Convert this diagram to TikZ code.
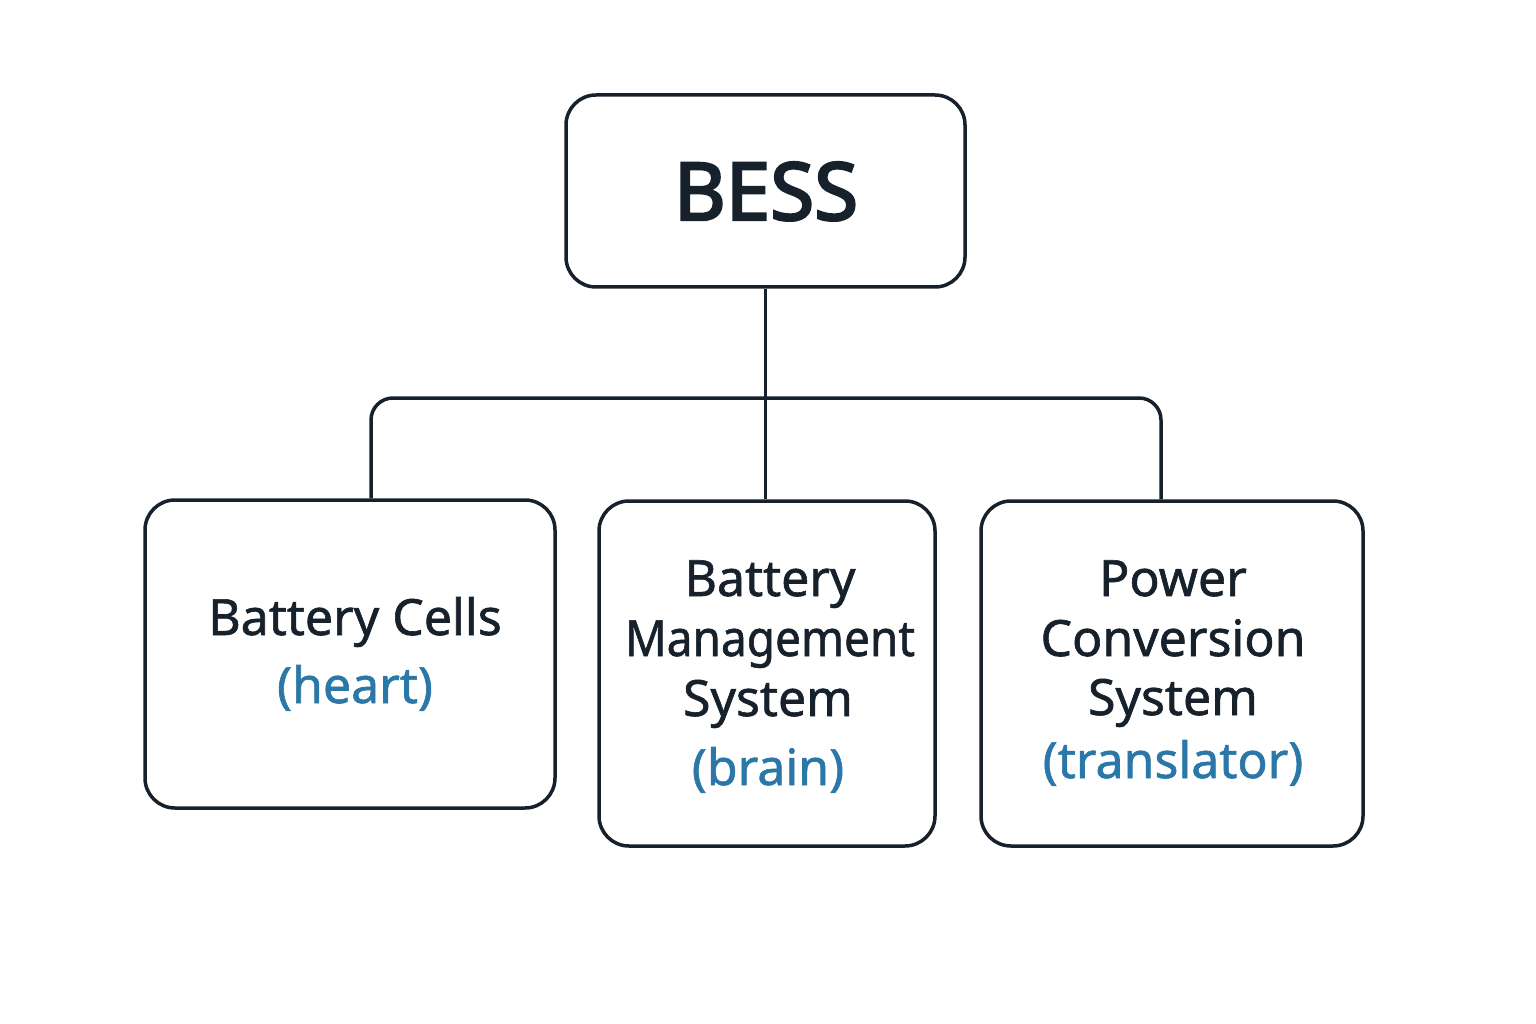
\documentclass[tikz,border=0pt]{standalone}
\usepackage{fontspec}
\setmainfont{Noto Sans}
\newfontfamily\bodyfont{Noto Sans}[FakeBold=1.2]
\newfontfamily\titlefont{Noto Sans}[FakeBold=3]
\definecolor{ink}{HTML}{16212C}
\definecolor{accent}{HTML}{2B78A8}
\begin{document}
\begin{tikzpicture}[x=1pt,y=-1pt,
  box/.style={draw=ink, line width=3.5pt, rounded corners=30pt, fill=white, inner sep=0pt},
  conn/.style={draw=ink, line width=3.5pt},
  lbl/.style={anchor=base, text=ink, font=\bodyfont\fontsize{50}{60}\selectfont, inner sep=0pt},
  sub/.style={lbl, text=accent},
]
\useasboundingbox[fill=white] (0,0) rectangle (1536,1024);
\node[box, minimum width=399pt, minimum height=192pt] (bess) at (765.5,191) {};
\node[box, minimum width=410pt, minimum height=308pt] (bc) at (350,654) {};
\node[box, minimum width=336pt, minimum height=345pt] (bms) at (767,673.5) {};
\node[box, minimum width=382pt, minimum height=345pt] (pcs) at (1172,673.5) {};
\coordinate (j) at (766,398);
\draw[conn] (bess.south) -- (bess.south |- bms.north);
\draw[conn, rounded corners=22pt] (bc.north -| 371,0) |- (j) -| (pcs.north -| 1161,0);
\node[text=ink, font=\titlefont\fontsize{80}{90}\selectfont, anchor=base, inner sep=0pt] (bessl) at (766,220) {BESS};
\node[lbl] (bc1) at (355,635) {Battery Cells};
\node[sub] (bc2) at (355,703) {(heart)};
\node[lbl] (bms1) at (770,596) {Battery};
\node[lbl] (bms2) at (770,656) {\scalebox{0.92}[1]{Management}};
\node[lbl] (bms3) at (768,716) {System};
\node[sub] (bms4) at (768,785) {(brain)};
\node[lbl] (pcs1) at (1173,596) {Power};
\node[lbl] (pcs2) at (1173,656) {Conversion};
\node[lbl] (pcs3) at (1173,715) {System};
\node[sub] (pcs4) at (1173,778) {(translator)};
\end{tikzpicture}
\end{document}
